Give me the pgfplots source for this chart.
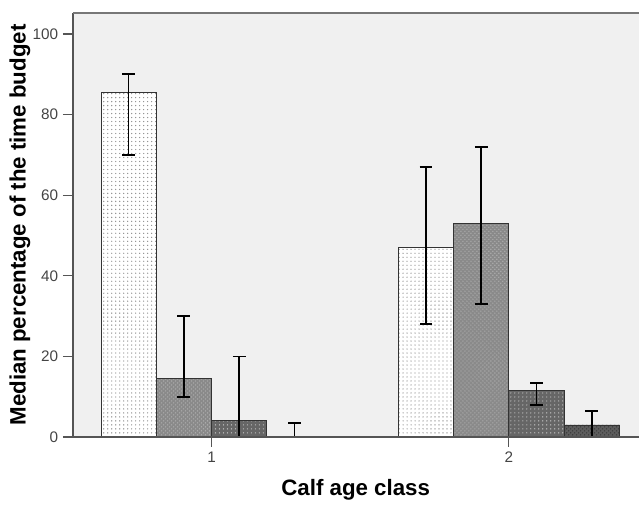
\documentclass[border=0pt]{standalone}
\usepackage{fontspec}
\setmainfont{Liberation Sans}
\usepackage{pgfplots}
\pgfplotsset{compat=1.18}
\usetikzlibrary{patterns}
\definecolor{bg}{HTML}{F0F0F0}
\definecolor{frameA}{HTML}{555555}
\definecolor{frameT}{HTML}{777777}
\definecolor{barB}{HTML}{8A8A8A}
\definecolor{barC}{HTML}{666666}
\definecolor{barD}{HTML}{5C5C5C}
\definecolor{ticktxt}{HTML}{444444}
\begin{document}
\begin{tikzpicture}
\begin{axis}[
  scale only axis,
  width=425.25pt, height=318.75pt,
  xmin=0.5336, xmax=2.436,
  ymin=0, ymax=105.2,
  clip=false,
  axis background/.style={fill=bg},
  axis line style={draw=none},
  xtick={1,2}, ytick={0,20,40,60,80,100},
  xtick pos=bottom, ytick pos=left,
  tick align=outside,
  major tick length=7.5pt,
  tick style={color=frameA, line width=0.9pt},
  ticklabel style={font=\fontsize{11.5}{13}\selectfont, text=ticktxt},
  /pgf/number format/assume math mode=true,
  xlabel={\bfseries Calf age class},
  ylabel={\bfseries Median percentage of the time budget},
  label style={font=\fontsize{16.75}{19}\selectfont},
  xlabel style={at={(rel axis cs:0.5,0)}, anchor=base, yshift=-44pt},
  ylabel style={at={(rel axis cs:0,0.5)}, anchor=center, xshift=0pt, yshift=39.75pt},
  ybar, bar width=0.186,
  error bars/y dir=both, error bars/y explicit,
  error bars/error bar style={black, line width=1.3pt},
  error bars/error mark options={rotate=90, mark size=4.8pt, line width=1.3pt, black},
]
\addplot[draw=black!80, line width=0.6pt, fill=white, bar shift=-0.279,
  postaction={pattern=dots, pattern color=black!45}]
  coordinates {(1,85.5) += (0,4.5) -= (0,15.5) (2,47) += (0,20) -= (0,19)};
\addplot[draw=black!80, line width=0.6pt, fill=barB, bar shift=-0.093,
  postaction={pattern=crosshatch dots, pattern color=black!30}]
  coordinates {(1,14.5) += (0,15.5) -= (0,4.5) (2,53) += (0,19) -= (0,20)};
\addplot[draw=black!80, line width=0.6pt, fill=barC, bar shift=0.093,
  postaction={pattern=dots, pattern color=black!25}]
  coordinates {(1,4) += (0,16) -= (0,4) (2,11.6) += (0,1.8) -= (0,3.6)};
\addplot[draw=black!80, line width=0.6pt, fill=barD, bar shift=0.279,
  postaction={pattern=crosshatch dots, pattern color=black!80}]
  coordinates {(1,0) += (0,3.4) -= (0,0) (2,3) += (0,3.5) -= (0,3)};
\draw[frameA, line width=1.1pt] (rel axis cs:0,0) -- (rel axis cs:0,1);
\draw[frameT, line width=2.2pt] (rel axis cs:0,1) -- (rel axis cs:1,1);
\draw[frameA, line width=0.9pt] (rel axis cs:0,0) -- (rel axis cs:1,0);
\path (rel axis cs:0,0) ++(-54.75pt,-46.5pt) rectangle ++(480pt,375pt);
\end{axis}
\end{tikzpicture}
\end{document}
